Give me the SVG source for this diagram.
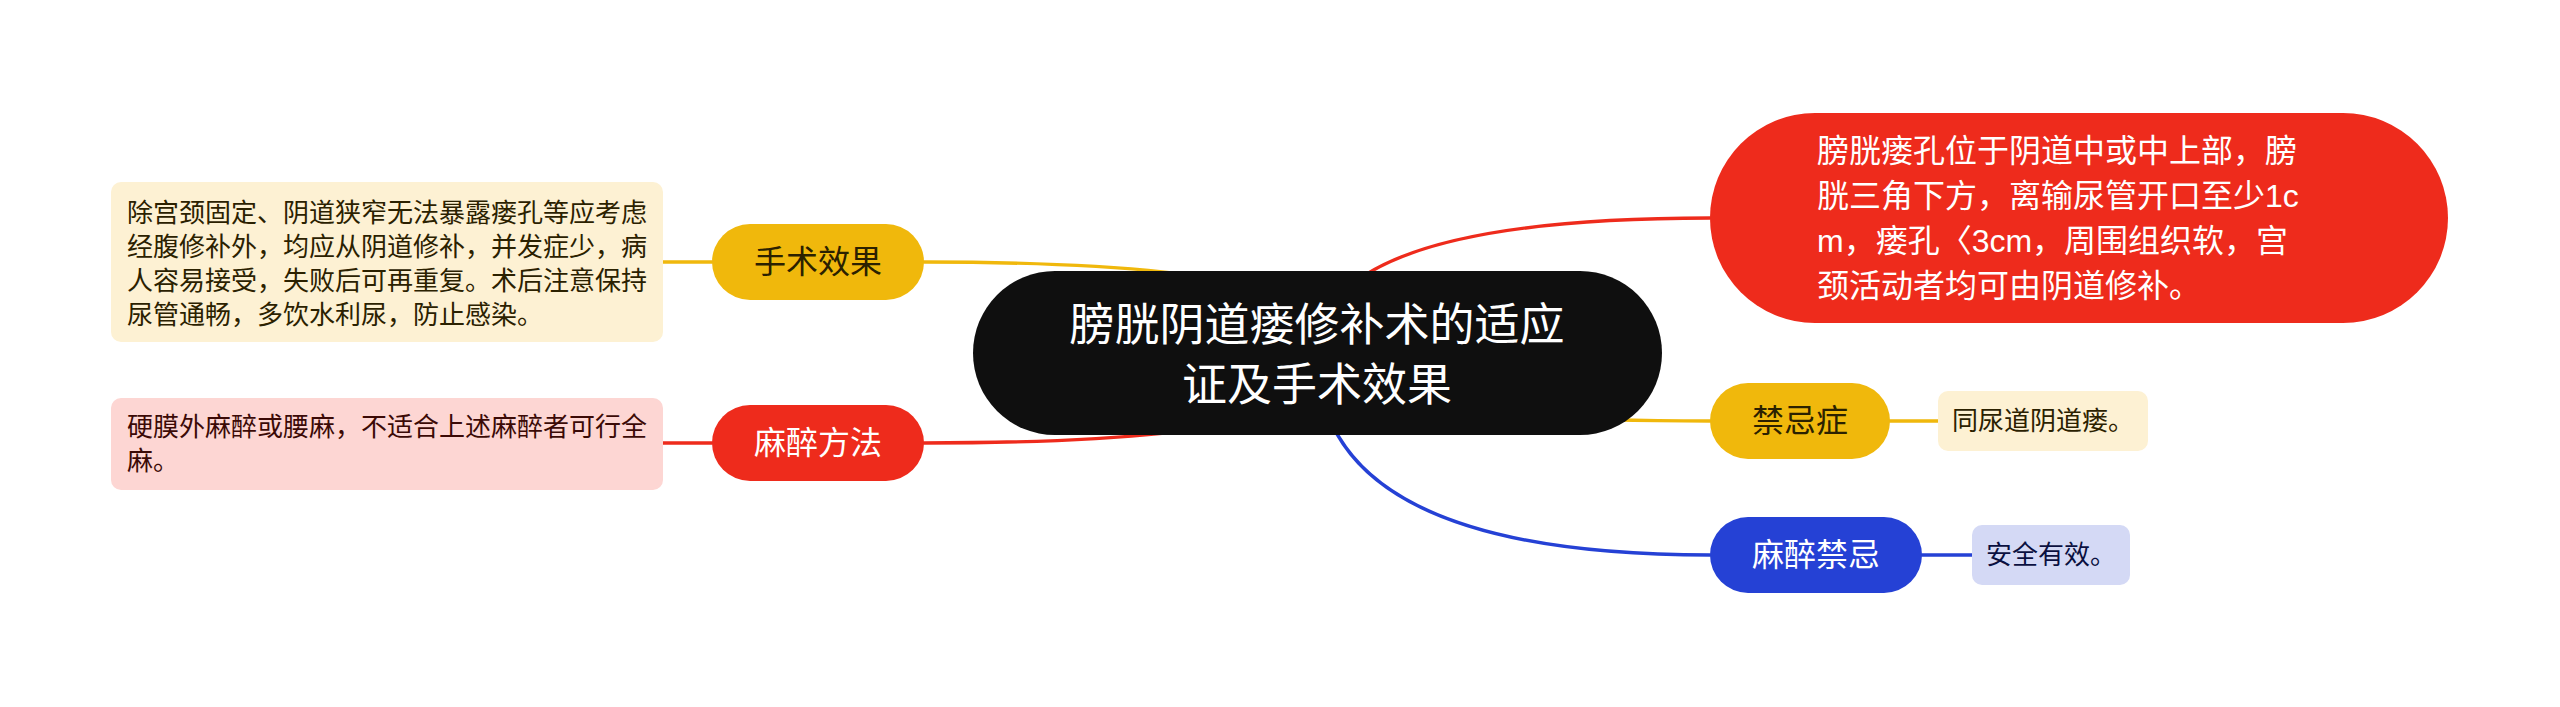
<svg xmlns="http://www.w3.org/2000/svg" width="2560" height="707" viewBox="0 0 2560 707">
<style>
text{font-family:"Liberation Sans","Noto Sans CJK SC",sans-serif;dominant-baseline:central}
.c{fill:none;stroke-width:3.5;stroke-linecap:round}
.y{stroke:#F0B80C}.r{stroke:#EE2B1C}.b{stroke:#2541D5}
.t32{font-size:32px}.t26{font-size:26px}.t45{font-size:45px}
.w{fill:#FFFFFF}.d{fill:#2B2100}.dk{fill:#3B0A06}.db{fill:#0A1040}
</style>
<rect width="2560" height="707" fill="#FFFFFF"/>
<g id="connectors">
<path class="c y" d="M1360 353 Q1360 262 924 262"/>
<path class="c r" d="M1360 353 Q1360 443 924 443"/>
<path class="c r" d="M1317 353 Q1317 218 1710 218"/>
<path class="c y" d="M1317 353 Q1317 421 1710 421"/>
<path class="c b" d="M1317 353 Q1317 555 1710 555"/>
<path class="c y" d="M712 262 L663 262"/>
<path class="c r" d="M712 443 L663 443"/>
<path class="c y" d="M1890 421 L1938 421"/>
<path class="c b" d="M1922 555 L1972 555"/>
</g>
<g id="center">
<rect x="973" y="271" width="689" height="164" rx="82" fill="#0F0F0F"/>
<text class="t45 w" x="1317" y="325" text-anchor="middle">膀胱阴道瘘修补术的适应</text>
<text class="t45 w" x="1317" y="385" text-anchor="middle">证及手术效果</text>
</g>
<g id="n-effect">
<rect x="712" y="224" width="212" height="76" rx="38" fill="#F0B80C"/>
<text class="t32 d" x="818" y="262" text-anchor="middle">手术效果</text>
</g>
<g id="leaf-effect">
<rect x="111" y="182" width="552" height="160" rx="10" fill="#FDF1D3"/>
<text class="t26 d" x="127" y="213">除宫颈固定、阴道狭窄无法暴露瘘孔等应考虑</text>
<text class="t26 d" x="127" y="247">经腹修补外，均应从阴道修补，并发症少，病</text>
<text class="t26 d" x="127" y="281">人容易接受，失败后可再重复。术后注意保持</text>
<text class="t26 d" x="127" y="315">尿管通畅，多饮水利尿，防止感染。</text>
</g>
<g id="n-anesthesia">
<rect x="712" y="405" width="212" height="76" rx="38" fill="#EE2B1C"/>
<text class="t32 w" x="818" y="443" text-anchor="middle">麻醉方法</text>
</g>
<g id="leaf-anesthesia">
<rect x="111" y="398" width="552" height="92" rx="10" fill="#FDD6D3"/>
<text class="t26 dk" x="127" y="427">硬膜外麻醉或腰麻，不适合上述麻醉者可行全</text>
<text class="t26 dk" x="127" y="461">麻。</text>
</g>
<g id="n-indication">
<rect x="1710" y="113" width="738" height="210" rx="105" fill="#EE2B1C"/>
<text class="t32 w" x="1817" y="151">膀胱瘘孔位于阴道中或中上部，膀</text>
<text class="t32 w" x="1817" y="196">胱三角下方，离输尿管开口至少1c</text>
<text class="t32 w" x="1817" y="241">m，瘘孔〈3cm，周围组织软，宫</text>
<text class="t32 w" x="1817" y="286">颈活动者均可由阴道修补。</text>
</g>
<g id="n-contra">
<rect x="1710" y="383" width="180" height="76" rx="38" fill="#F0B80C"/>
<text class="t32 d" x="1800" y="421" text-anchor="middle">禁忌症</text>
</g>
<g id="leaf-contra">
<rect x="1938" y="391" width="210" height="60" rx="10" fill="#FDF1D3"/>
<text class="t26 d" x="1952" y="421">同尿道阴道瘘。</text>
</g>
<g id="n-anes-contra">
<rect x="1710" y="517" width="212" height="76" rx="38" fill="#2541D5"/>
<text class="t32 w" x="1816" y="555" text-anchor="middle">麻醉禁忌</text>
</g>
<g id="leaf-anes-contra">
<rect x="1972" y="525" width="158" height="60" rx="10" fill="#D4D9F5"/>
<text class="t26 db" x="1986" y="555">安全有效。</text>
</g>
</svg>
